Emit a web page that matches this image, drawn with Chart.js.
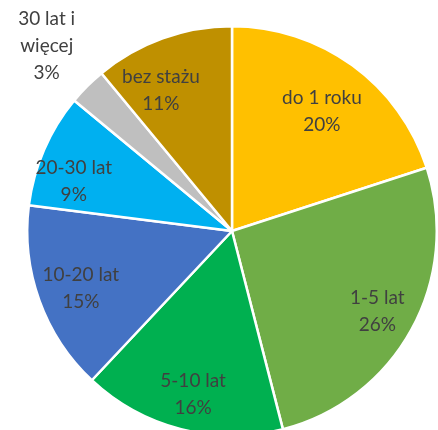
<!DOCTYPE html>
<html>
<head>
<meta charset="utf-8">
<script src="https://cdn.jsdelivr.net/npm/chart.js@4"></script>
<style>
  html, body { margin: 0; padding: 0; background: #fff; overflow: hidden; }
  #wrap { width: 438px; height: 462px; position: relative; }
</style>
</head>
<body>
<div id="wrap"><canvas id="pie-chart"></canvas></div>
<script>
const LABELS = [["do 1 roku"], ["1-5 lat"], ["5-10 lat"], ["10-20 lat"], ["20-30 lat"], ["30 lat i", "więcej"], ["bez stażu"]];
const VALUES = [20, 26, 16, 15, 9, 3, 11];
const COLORS = ["#FFC000", "#70AD47", "#00B050", "#4472C4", "#00B0F0", "#BFBFBF", "#BF9000"];

// label placement tweaks (angle shift in degrees, distance as fraction of radius)
const LABEL_SHIFT = [1, 0, -1, -1, -6, 0, -7];
const LABEL_DIST = [0.73, 0.81, 0.82, 0.79, 0.81, 1.28, 0.77];

const sliceLabels = {
  id: "sliceLabels",
  afterDatasetsDraw(chart) {
    const ctx = chart.ctx;
    const meta = chart.getDatasetMeta(0);
    const total = VALUES.reduce((a, b) => a + b, 0);
    ctx.save();
    ctx.font = "19px Lato, 'Open Sans', sans-serif";
    ctx.fillStyle = "#404040";
    ctx.textAlign = "center";
    ctx.textBaseline = "middle";
    meta.data.forEach((arc, i) => {
      const mid = (arc.startAngle + arc.endAngle) / 2 + LABEL_SHIFT[i] * Math.PI / 180;
      const r = arc.outerRadius * LABEL_DIST[i];
      const x = arc.x + Math.cos(mid) * r;
      const y = arc.y + Math.sin(mid) * r;
      const lines = LABELS[i].concat([Math.round(VALUES[i] / total * 100) + "%"]);
      const lh = 27;
      const y0 = y - (lines.length - 1) * lh / 2;
      lines.forEach((t, k) => ctx.fillText(t, x, y0 + k * lh));
    });
    ctx.restore();
  }
};

new Chart(document.getElementById("pie-chart"), {
  type: "pie",
  data: {
    labels: LABELS.map(l => l.join(" ")),
    datasets: [{
      data: VALUES,
      backgroundColor: COLORS,
      borderColor: "#ffffff",
      borderWidth: 2.5
    }]
  },
  options: {
    responsive: true,
    maintainAspectRatio: false,
    animation: false,
    layout: { padding: { left: 26, right: 0, top: 25, bottom: 25 } },
    plugins: {
      legend: { display: false },
      tooltip: { enabled: false }
    }
  },
  plugins: [sliceLabels]
});
</script>
</body>
</html>
